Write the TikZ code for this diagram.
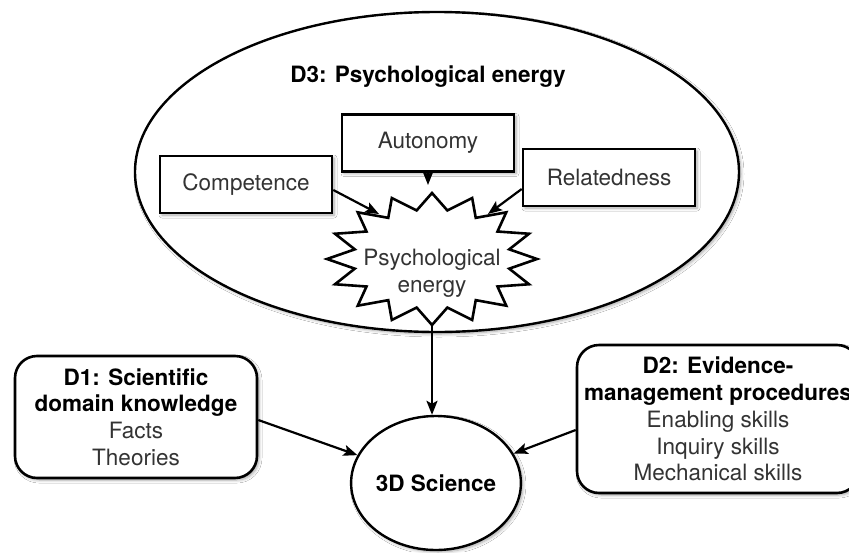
\documentclass[tikz,border=0pt]{standalone}
\usepackage{fontspec}
\setmainfont{TeX Gyre Heros}
\usetikzlibrary{shapes.geometric,arrows.meta,shadows.blur,calc}
\begin{document}
\begin{tikzpicture}[x=1pt,y=-1pt,
  shad/.style={blur shadow={shadow xshift=2pt,shadow yshift=-2pt,shadow blur steps=6,shadow opacity=35,shadow blur radius=3pt}},
  fs/.style={font=\fontsize{22.5}{26.8}\selectfont},
  lbl/.style={fs, text=black!80},
  ttl/.style={font=\fontsize{22.5}{26.8}\selectfont\bfseries},
  sqbox/.style={draw, line width=2.6pt, fill=white, minimum width=172pt, minimum height=57pt, inner sep=0pt, lbl, shad},
  rbox/.style={draw, line width=2.6pt, fill=white, rounded corners=22pt, align=center, inner sep=0pt, fs, shad},
  oval/.style={ellipse, draw, line width=2.4pt, fill=white, inner sep=0pt, shad},
  arr/.style={line width=2.2pt, -{Stealth[length=14pt,width=11pt,inset=3pt]}}
]
\clip (0,0) rectangle (849,552);
\fill[white] (0,0) rectangle (849,552);

% D3 ellipse
\node[oval, minimum width=604pt, minimum height=320pt] (d3) at (437,172) {};
\node[ttl] (d3title) at (428,77) {D3: Psychological energy};

\node[sqbox] (aut) at (428,143) {Autonomy};
\node[sqbox] (comp) at (246,184.5) {Competence};
\node[sqbox] (rel) at (609,177.5) {Relatedness};

% star
\draw[line width=2.6pt, fill=white, line join=miter, miter limit=10]
  plot[samples at={0,...,31}] ({432+105*(1-0.25*mod(\x,2))*cos(90+11.25*\x)}, {259+66*(1-0.25*mod(\x,2))*sin(90+11.25*\x)}) -- cycle;
\node[lbl, align=center] (pe) at (432,273) {Psychological\\energy};
\coordinate (stop) at (428,185);
\coordinate (sleft) at (379,214);
\coordinate (sright) at (488,214);
\coordinate (sbot) at (432,325);

\draw[arr] (aut) -- (stop);
\draw[arr] ($(comp.east)+(0,5.5)$) -- (sleft);
\draw[arr] ($(rel.west)+(0,11.5)$) -- (sright);

% 3D science
\node[oval, minimum width=158pt, minimum height=134pt, ttl] (sci) at (436,483) {3D Science};
\draw[arr] (sbot) -- (sbot |- sci.north);

% D1 and D2
\node[rbox, minimum width=242pt, minimum height=122pt] (d1) at (136,417)
  {\textbf{D1: Scientific}\\\textbf{domain knowledge}\\{\color{black!80}Facts}\\{\color{black!80}Theories}};
\node[rbox, minimum width=282pt, minimum height=148pt] (d2) at (718,419)
  {\textbf{D2: Evidence-}\\\textbf{management procedures}\\{\color{black!80}Enabling skills}\\{\color{black!80}Inquiry skills}\\{\color{black!80}Mechanical skills}};

\draw[arr] ($(d1.east)+(0,3)$) -- (sci);
\draw[arr] ($(d2.west)+(0,11)$) -- (sci);
\end{tikzpicture}
\end{document}
